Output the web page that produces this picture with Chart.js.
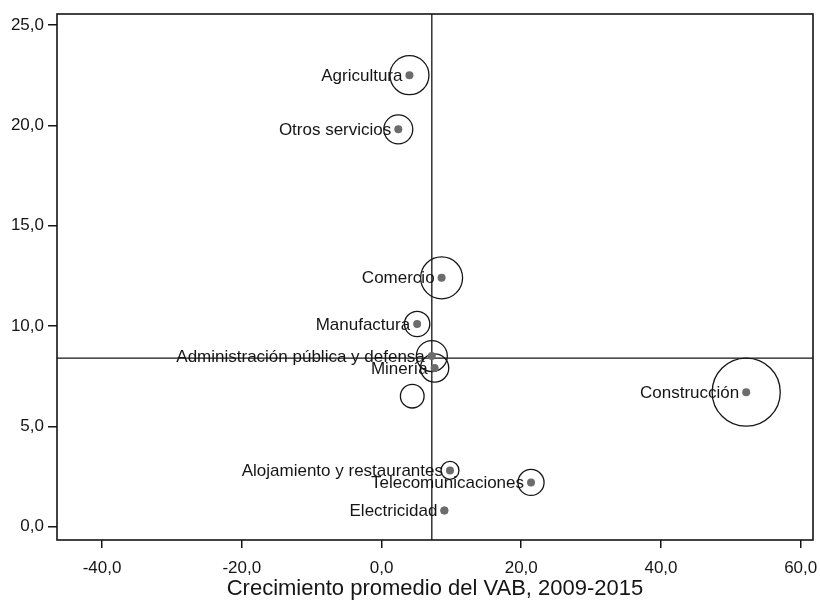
<!DOCTYPE html>
<html>
<head>
<meta charset="utf-8">
<script src="https://cdn.jsdelivr.net/npm/chart.js@4.4.0/dist/chart.umd.min.js"></script>
<style>
  html, body { margin: 0; padding: 0; background: #fff; }
  canvas { display: block; }
</style>
</head>
<body>
<canvas id="chart" width="820" height="602"></canvas>
<script>
// sectors, "" = unlabeled bubble (no dot)
const sectores = [
  "Agricultura", "Otros servicios", "Comercio", "Manufactura",
  "Administración pública y defensa", "Minería", "", "Construcción",
  "Alojamiento y restaurantes", "Telecomunicaciones", "Electricidad"
];
const crecimientoVAB = [4.0, 2.4, 8.6, 5.1, 7.2, 7.6, 4.4, 52.2, 9.8, 21.4, 9.0];
const valorY = [22.5, 19.8, 12.4, 10.1, 8.5, 7.9, 6.5, 6.7, 2.8, 2.2, 0.8];
const peso = [3.8, 2.1, 4.4, 1.6, 2.4, 2.0, 1.4, 11.6, 0.8, 1.7, 0.1];

const promedioX = 7.2;
const promedioY = 8.4;

const xTicks = [-40, -20, 0, 20, 40, 60];
const yTicks = [0, 5, 10, 15, 20, 25];
const tituloX = "Crecimiento promedio del VAB, 2009-2015";

const fmt = v => v.toFixed(1).replace(".", ",");
const ink = "#151515";
const fam = "'Liberation Sans', Arial, sans-serif";

const dots = sectores
  .map((s, i) => ({ x: crecimientoVAB[i], y: valorY[i], s }))
  .filter(p => p.s !== "");
const rings = sectores.map((s, i) => ({
  x: crecimientoVAB[i], y: valorY[i], r: 10 * Math.sqrt(peso[i])
}));

// reference lines + frame
const frame = {
  id: "frame",
  beforeDatasetsDraw(chart) {
    const { ctx, chartArea: a, scales } = chart;
    const px = scales.x.getPixelForValue(promedioX);
    const py = scales.y.getPixelForValue(promedioY);
    ctx.save();
    ctx.strokeStyle = ink;
    ctx.lineWidth = 1.3;
    ctx.beginPath();
    ctx.moveTo(px, a.top); ctx.lineTo(px, a.bottom);
    ctx.moveTo(a.left, py); ctx.lineTo(a.right, py);
    ctx.stroke();
    ctx.lineWidth = 1.6;
    ctx.strokeRect(a.left, a.top, a.right - a.left, a.bottom - a.top);
    ctx.restore();
  }
};

// point labels, right aligned left of the dot
const labels = {
  id: "labels",
  afterDatasetsDraw(chart) {
    const { ctx, scales } = chart;
    ctx.save();
    ctx.font = "17px " + fam;
    ctx.fillStyle = ink;
    ctx.textAlign = "right";
    ctx.textBaseline = "middle";
    sectores.forEach((s, i) => {
      if (!s) return;
      const x = scales.x.getPixelForValue(crecimientoVAB[i]);
      const y = scales.y.getPixelForValue(valorY[i]);
      ctx.fillText(s, x - 7, y + 1);
    });
    ctx.restore();
  }
};

new Chart(document.getElementById("chart"), {
  type: "scatter",
  data: {
    datasets: [
      {
        type: "scatter",
        data: dots,
        pointRadius: 4,
        pointBackgroundColor: "#6c6c6c",
        pointBorderWidth: 0
      },
      {
        type: "bubble",
        data: rings,
        backgroundColor: "rgba(0,0,0,0)",
        borderColor: ink,
        borderWidth: 1.3
      }
    ]
  },
  options: {
    responsive: false,
    animation: false,
    events: [],
    layout: { autoPadding: false, padding: { top: 14, right: 7, left: 0, bottom: 0 } },
    plugins: { legend: { display: false }, tooltip: { enabled: false } },
    scales: {
      x: {
        type: "linear",
        min: -46.45,
        max: 61.76,
        afterBuildTicks: s => { s.ticks = xTicks.map(v => ({ value: v })); },
        afterFit: s => { s.height = 62; s.paddingLeft = 0; s.paddingRight = 0; },
        ticks: {
          color: ink,
          font: { family: fam, size: 17 },
          padding: 10,
          maxRotation: 0,
          callback: v => fmt(v)
        },
        grid: { drawOnChartArea: false, tickLength: 8, color: ink, lineWidth: 1.5 },
        border: { display: false },
        title: {
          display: true,
          text: tituloX,
          color: ink,
          font: { family: fam, size: 22 },
          padding: { top: 0, bottom: 0 }
        }
      },
      y: {
        type: "linear",
        min: -0.67,
        max: 25.55,
        afterBuildTicks: s => { s.ticks = yTicks.map(v => ({ value: v })); },
        afterFit: s => { s.width = 57; s.paddingTop = 0; s.paddingBottom = 0; },
        ticks: {
          color: ink,
          font: { family: fam, size: 17 },
          padding: 4,
          callback: v => fmt(v)
        },
        grid: { drawOnChartArea: false, tickLength: 9, color: ink, lineWidth: 1.5 },
        border: { display: false }
      }
    }
  },
  plugins: [frame, labels]
});
</script>
</body>
</html>
